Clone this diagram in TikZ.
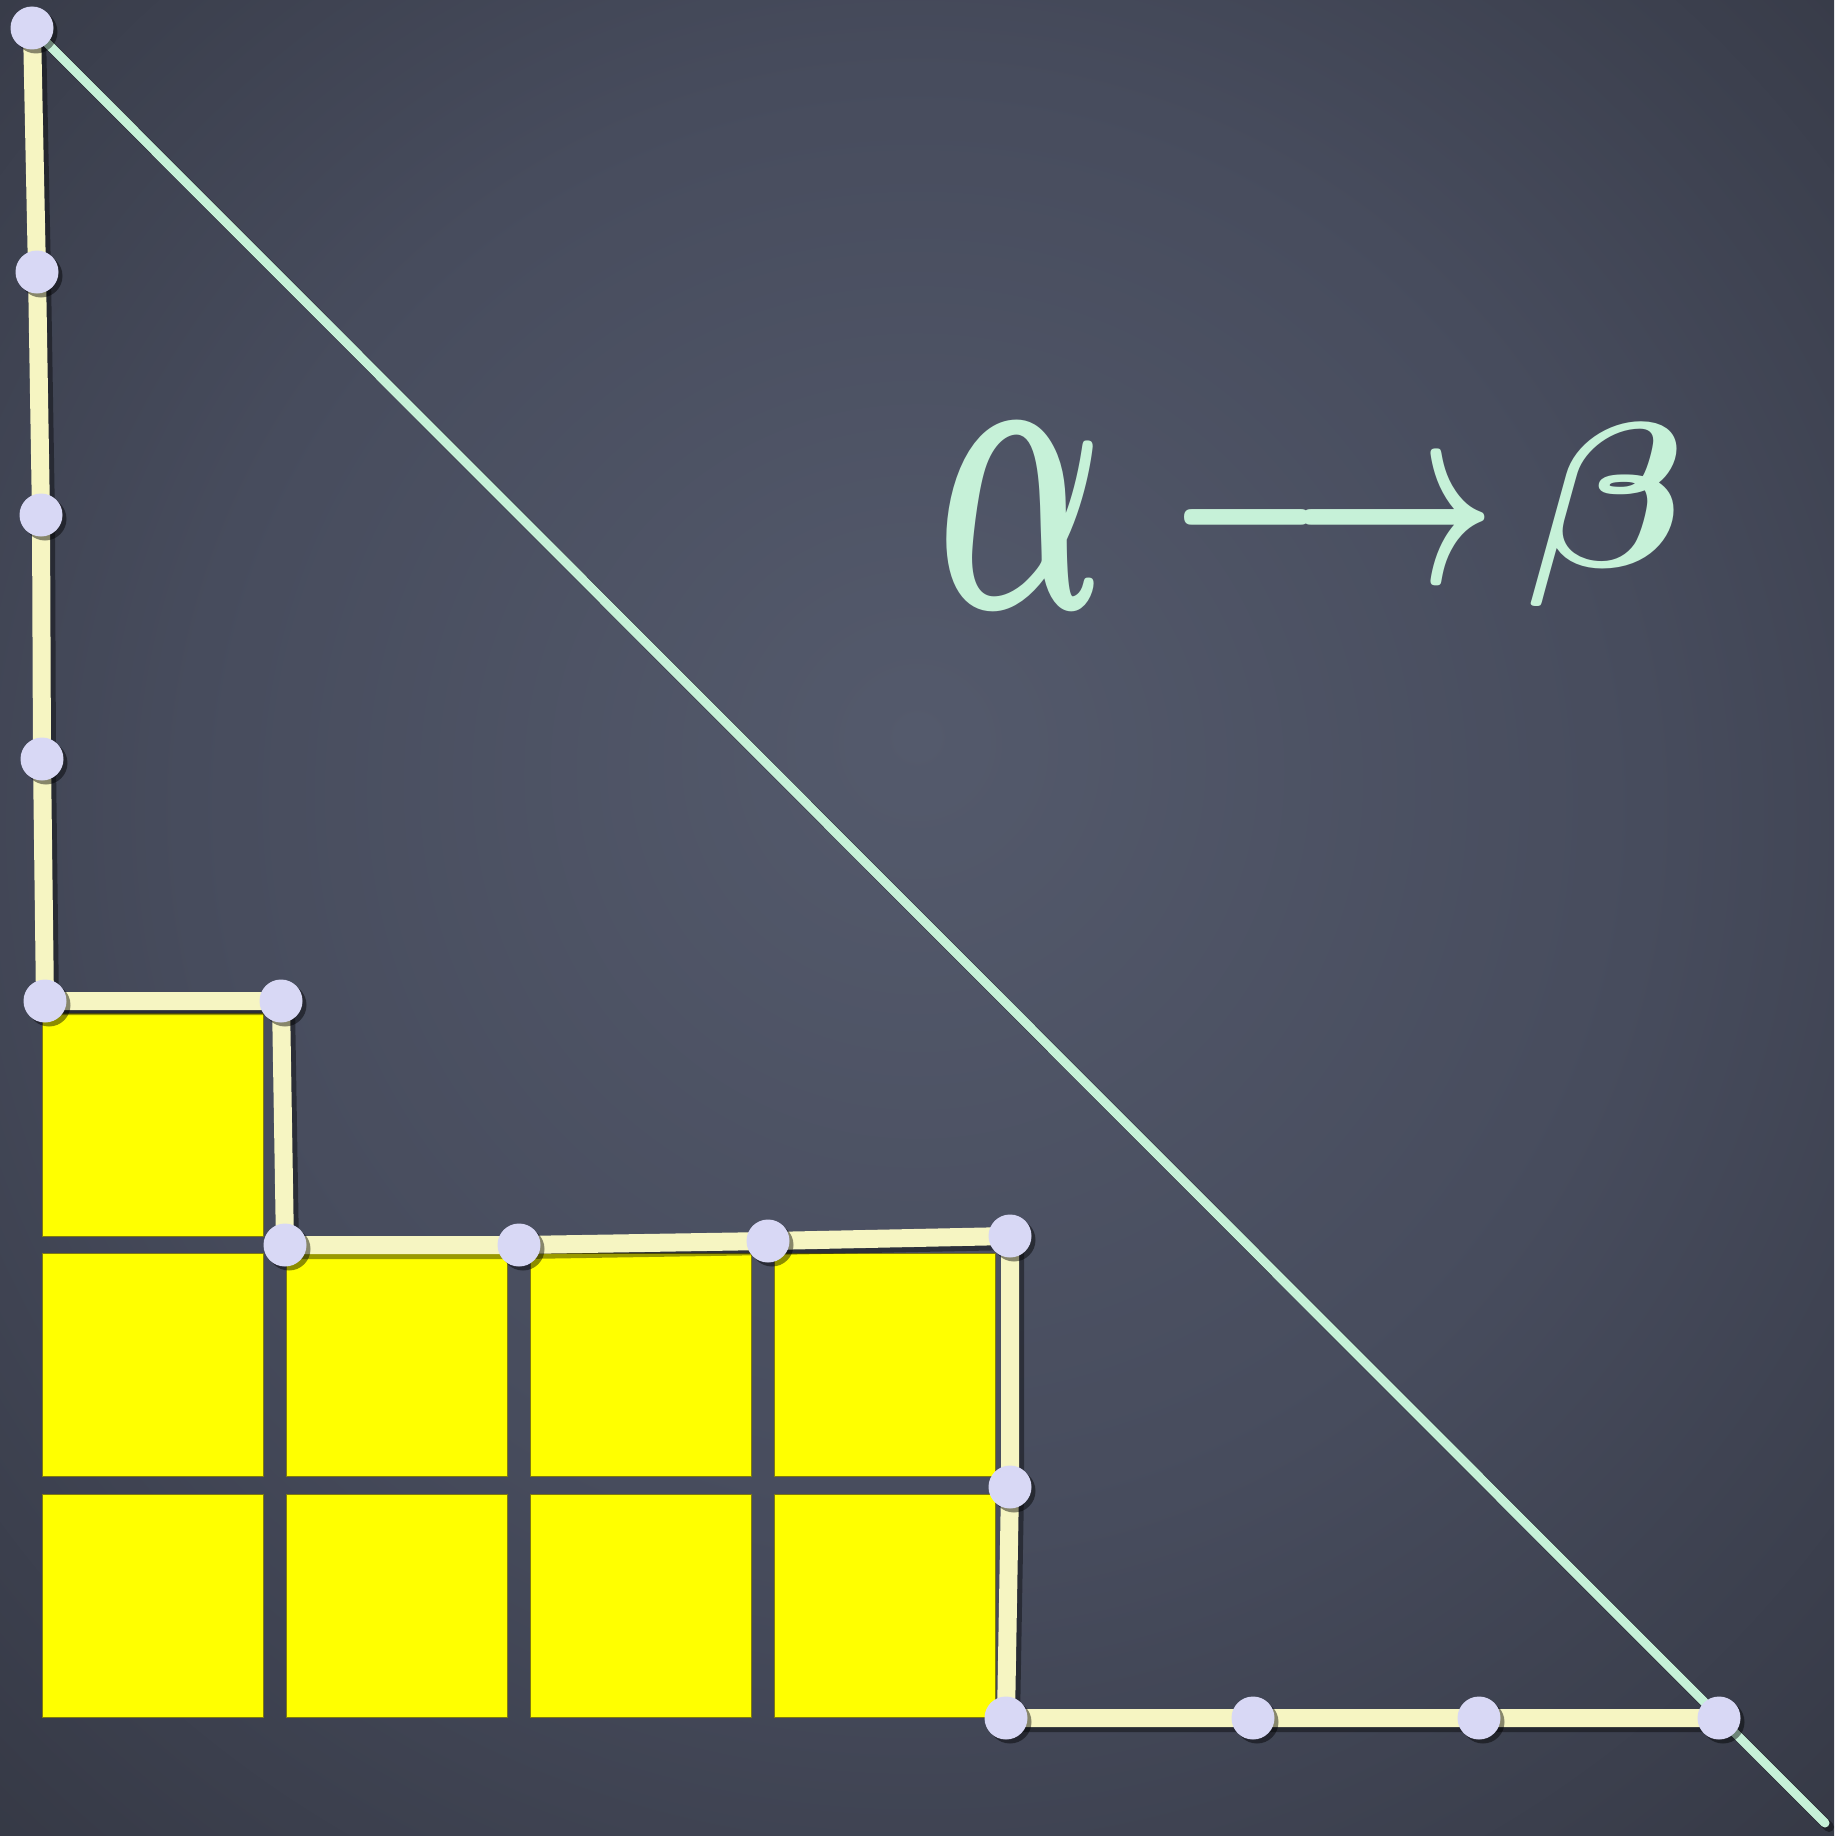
\documentclass[tikz,border=0pt]{standalone}
\usepackage{graphicx}
\usetikzlibrary{shadows}
\definecolor{board}{HTML}{474C5D}
\definecolor{boardin}{HTML}{545A6C}
\definecolor{boardout}{HTML}{30333E}
\definecolor{chalk}{HTML}{F6F5C2}
\definecolor{mint}{HTML}{C6F1D8}
\definecolor{dotc}{HTML}{D8D8F5}
\definecolor{cellc}{HTML}{FFFF00}
\definecolor{celledge}{HTML}{7F7A10}
\pgfdeclareradialshading{boardshade}{\pgfpoint{0bp}{5bp}}{color(0bp)=(boardin); color(20bp)=(board); color(42bp)=(boardout); color(50bp)=(boardout)}
\begin{document}
\begin{tikzpicture}[x=1pt,y=-1pt,
  dot/.style={circle, fill=dotc, minimum size=43pt, inner sep=0pt,
    drop shadow={shadow xshift=4pt, shadow yshift=-4pt, opacity=0.45, fill=black}},
  cell/.style={rectangle, fill=cellc, draw=celledge, line width=1.2pt,
    minimum width=221pt, minimum height=223pt, inner sep=0pt},
  chalkline/.style={draw=chalk, line width=18pt, line cap=round, line join=round},
  chalkshadow/.style={draw=black, opacity=0.4, line width=20pt, line cap=round, line join=round},
  diag/.style={draw=mint, line width=9pt, line cap=round},
  diagshadow/.style={draw=black, opacity=0.4, line width=10pt, line cap=round},
  greek/.style={text=mint, inner sep=0pt}]
\useasboundingbox (0,0) rectangle (1834,1836);
\shade[shading=boardshade] (0,0) rectangle (1834,1836);

% yellow cells
\node[cell] (c11) at (153,1125) {};
\node[cell] (c21) at (153,1365) {};
\node[cell] (c22) at (397,1365) {};
\node[cell] (c23) at (641,1365) {};
\node[cell] (c24) at (885,1365) {};
\node[cell] (c31) at (153,1606) {};
\node[cell] (c32) at (397,1606) {};
\node[cell] (c33) at (641,1606) {};
\node[cell] (c34) at (885,1606) {};

% dot positions
\coordinate (p1) at (32,28);
\coordinate (p2) at (37,272);
\coordinate (p3) at (41,515);
\coordinate (p4) at (42,759);
\coordinate (p5) at (45,1001);
\coordinate (p6) at (281,1001);
\coordinate (p7) at (285,1245);
\coordinate (p8) at (519,1245);
\coordinate (p9) at (768,1241);
\coordinate (p10) at (1010,1236);
\coordinate (p11) at (1010,1487);
\coordinate (p12) at (1006,1718);
\coordinate (p13) at (1253,1718);
\coordinate (p14) at (1479,1718);
\coordinate (p15) at (1719,1718);
\coordinate (dend) at (1825,1823);

% shadows of lines
\begin{scope}[transform canvas={shift={(4pt,-4pt)}}]
\draw[diagshadow] (p1) -- (dend);
\draw[chalkshadow] (p1) -- (p2) -- (p3) -- (p4) -- (p5) -- (p6) -- (p7) -- (p8) -- (p9) -- (p10) -- (p11) -- (p12) -- (p13) -- (p14) -- (p15);
\end{scope}

% diagonal
\draw[diag] (p1) -- (dend);
% chalk staircase
\draw[chalkline] (p1) -- (p2) -- (p3) -- (p4) -- (p5) -- (p6) -- (p7) -- (p8) -- (p9) -- (p10) -- (p11) -- (p12) -- (p13) -- (p14) -- (p15);

% dots
\foreach \i in {1,...,15} {\node[dot] (d\i) at (p\i) {};}

% text
\node[greek] (alpha) at (1022,516) {\resizebox*{170pt}{185pt}{\boldmath$\alpha$}};
\node[greek] (arrow) at (1332,531) {\resizebox*{328pt}{100pt}{\boldmath$\longrightarrow$}};
\node[greek] (beta) at (1607,515) {\resizebox*{158pt}{183pt}{\boldmath$\beta$}};
\end{tikzpicture}
\end{document}
